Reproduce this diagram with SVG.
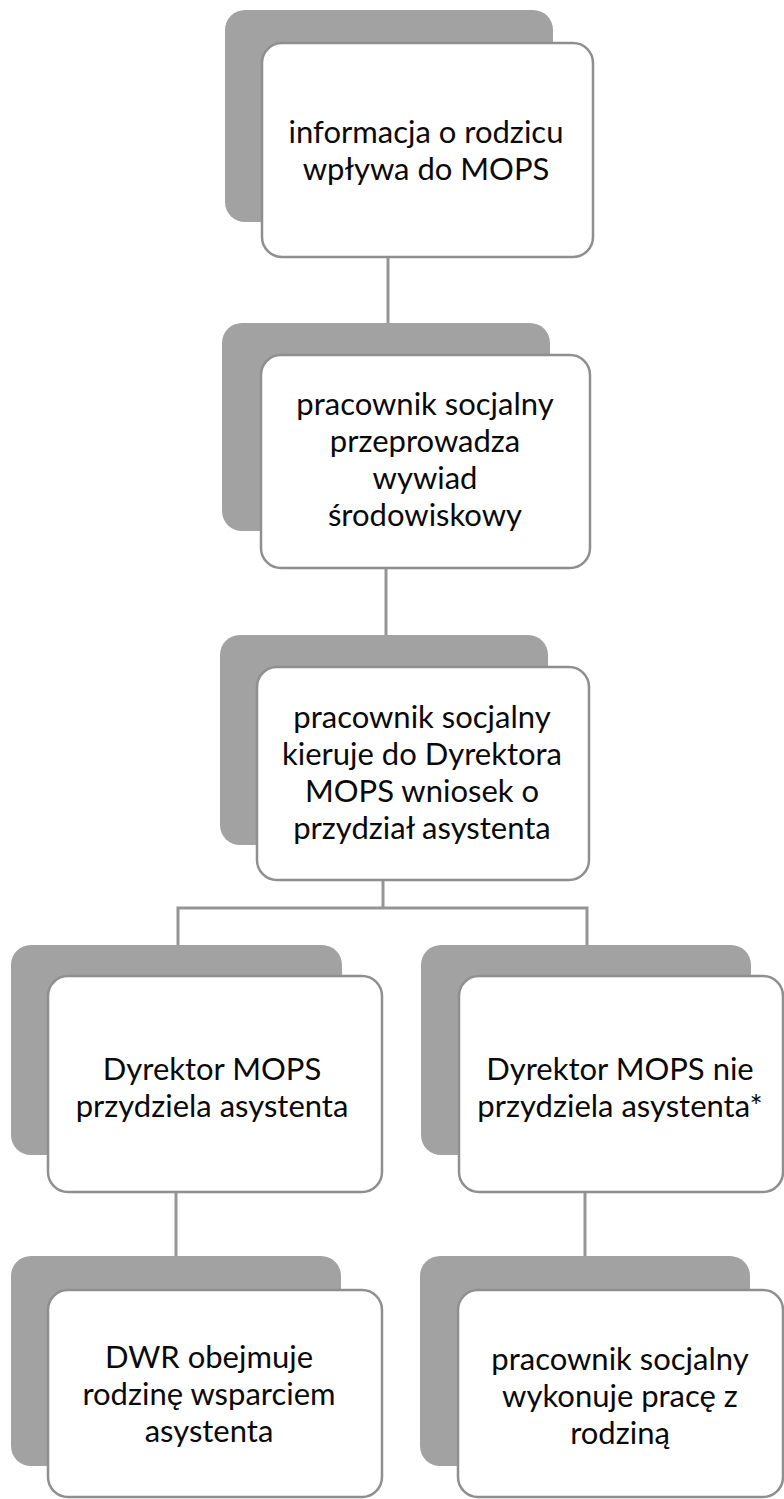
<svg xmlns="http://www.w3.org/2000/svg" width="784" height="1499" viewBox="0 0 784 1499">
<style>
.bg{fill:#ffffff}
.sh{fill:#a2a2a2;stroke:none}
.fr{fill:#ffffff;stroke:#8f8f8f;stroke-width:2.5}
.cn{fill:none;stroke:#959595;stroke-width:3}
.t{font-family:Lato,"Open Sans","Liberation Sans",sans-serif;font-size:31px;fill:#0a0a0a;text-anchor:middle}
</style>
<rect class="bg" x="0" y="0" width="784" height="1499"/>
<g id="connectors">
<path class="cn" d="M388 257 V323"/>
<path class="cn" d="M386 568 V635"/>
<path class="cn" d="M383 880 V908 M178 945 V908 H587 V945"/>
<path class="cn" d="M176 1192 V1256"/>
<path class="cn" d="M585 1192 V1256"/>
</g>
<g id="n1">
<rect class="sh" x="225" y="10" width="328" height="212" rx="20"/>
<rect class="fr" x="262" y="43" width="331" height="214" rx="20"/>
<text class="t" x="426" y="143">informacja o rodzicu</text>
<text class="t" x="426" y="180">wpływa do MOPS</text>
</g>
<g id="n2">
<rect class="sh" x="222" y="323" width="328" height="208" rx="20"/>
<rect class="fr" x="261" y="355" width="329" height="213" rx="20"/>
<text class="t" x="425" y="415">pracownik socjalny</text>
<text class="t" x="425" y="452">przeprowadza</text>
<text class="t" x="425" y="489">wywiad</text>
<text class="t" x="425" y="526">środowiskowy</text>
</g>
<g id="n3">
<rect class="sh" x="220" y="635" width="328" height="210" rx="20"/>
<rect class="fr" x="257" y="667" width="332" height="213" rx="20"/>
<text class="t" x="422" y="728">pracownik socjalny</text>
<text class="t" x="422" y="765">kieruje do Dyrektora</text>
<text class="t" x="422" y="802">MOPS wniosek o</text>
<text class="t" x="422" y="839">przydział asystenta</text>
</g>
<g id="n4">
<rect class="sh" x="11" y="945" width="331" height="210" rx="20"/>
<rect class="fr" x="48" y="976" width="334" height="216" rx="20"/>
<text class="t" x="212" y="1080">Dyrektor MOPS</text>
<text class="t" x="212" y="1117">przydziela asystenta</text>
</g>
<g id="n5">
<rect class="sh" x="421" y="945" width="330" height="210" rx="20"/>
<rect class="fr" x="459" y="976" width="324" height="216" rx="20"/>
<text class="t" x="620" y="1080">Dyrektor MOPS nie</text>
<text class="t" x="620" y="1117">przydziela asystenta*</text>
</g>
<g id="n6">
<rect class="sh" x="11" y="1256" width="330" height="210" rx="20"/>
<rect class="fr" x="48" y="1290" width="334" height="207" rx="20"/>
<text class="t" x="209" y="1368">DWR obejmuje</text>
<text class="t" x="209" y="1405">rodzinę wsparciem</text>
<text class="t" x="209" y="1442">asystenta</text>
</g>
<g id="n7">
<rect class="sh" x="420" y="1256" width="330" height="210" rx="20"/>
<rect class="fr" x="458" y="1290" width="325" height="207" rx="20"/>
<text class="t" x="620" y="1370">pracownik socjalny</text>
<text class="t" x="620" y="1407">wykonuje pracę z</text>
<text class="t" x="620" y="1444">rodziną</text>
</g>
</svg>
